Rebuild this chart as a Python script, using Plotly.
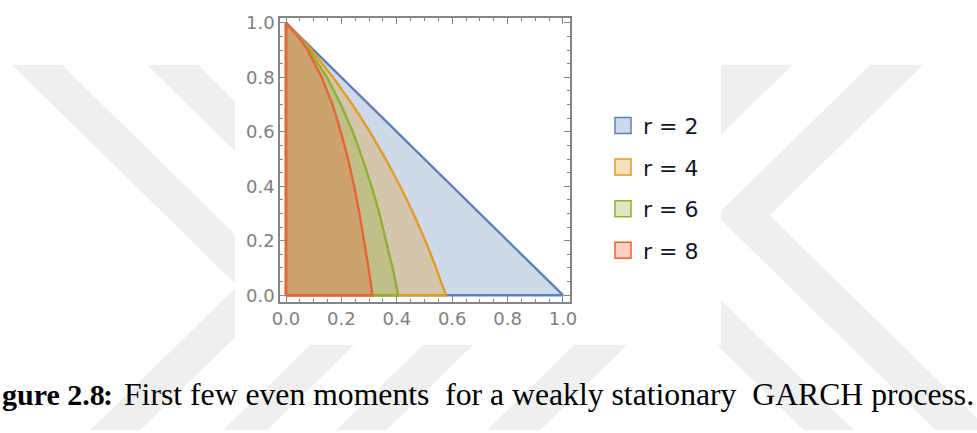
import plotly.graph_objects as go

# Stationarity regions of the even moments E[x^r] of a GARCH(1,1) process
# (alpha on the horizontal axis, beta on the vertical axis).
beta_levels = [0.0, 0.1, 0.2, 0.3, 0.4, 0.5, 0.6, 0.7, 0.8, 0.9, 0.95, 1.0]
alpha_r2 = [1.0, 0.9, 0.8, 0.7, 0.6, 0.5, 0.4, 0.3, 0.2, 0.1, 0.05, 0.0]
alpha_r4 = [0.577, 0.542, 0.503, 0.460, 0.412, 0.360, 0.303, 0.240, 0.170, 0.092, 0.048, 0.0]
alpha_r6 = [0.405, 0.385, 0.362, 0.337, 0.309, 0.277, 0.241, 0.198, 0.148, 0.084, 0.046, 0.0]
alpha_r8 = [0.312, 0.298, 0.282, 0.265, 0.246, 0.224, 0.198, 0.168, 0.129, 0.078, 0.044, 0.0]

series_names = ["r = 2", "r = 4", "r = 6", "r = 8"]
series_alpha = [alpha_r2, alpha_r4, alpha_r6, alpha_r8]
line_colors = ["#5E81B5", "#E19C24", "#8FB032", "#EB6235"]
fill_colors = ["rgba(94,129,181,0.3)", "rgba(225,156,36,0.3)",
               "rgba(143,176,50,0.3)", "rgba(235,98,53,0.3)"]

tick_values = [0.0, 0.2, 0.4, 0.6, 0.8, 1.0]
tick_labels = ["0.0", "0.2", "0.4", "0.6", "0.8", "1.0"]

caption_label = "gure 2.8"
caption_colon = ":"
caption_text = ("First few even moments\u00a0\u00a0for a weakly stationary"
                "\u00a0\u00a0GARCH process.")

W, H = 977, 433
ML, MR, MT, MB = 280, 407, 12, 131
PW, PH = W - ML - MR, H - MT - MB


def px(x):
    return (x - ML) / PW


def py(y):
    return (H - MB - y) / PH


fig = go.Figure()

# Filled regions with their boundaries, widest first
for name, alphas, lc, fc in zip(series_names, series_alpha, line_colors, fill_colors):
    xs = [0.0] + alphas + [0.0]
    ys = [0.0] + beta_levels + [0.0]
    fig.add_trace(go.Scatter(
        x=xs, y=ys, mode="lines", fill="toself", fillcolor=fc,
        line=dict(color=lc, width=2.4), showlegend=False, hoverinfo="skip",
    ))

# Legend swatches
for i, (name, lc, fc) in enumerate(zip(series_names, line_colors, fill_colors)):
    fig.add_trace(go.Scatter(
        x=[None], y=[None], mode="markers", name=name, legendgroup=f"g{i}",
        marker=dict(symbol="square", size=16, color=fc, line=dict(color=lc, width=1.5)),
    ))

# Background watermark bands (pixel outlines)
bands = [
    [(12, 60), (62, 60), (287.5, 285.5), (140, 433), (90, 433), (237.5, 285.5)],
    [(147, 60), (198, 60), (419, 281), (267, 433), (223, 433), (371.5, 284.5)],
    [(336, 433), (386, 433), (536, 283), (486, 283)],
    [(487, 433), (540, 433), (690, 283), (637, 283)],
    [(870, 60), (923, 60), (769.5, 213.5), (989, 433), (936, 433), (716.5, 213.5)],
    [(650, 60), (792, 60), (650, 202)],
    [(650, 279), (700, 279), (854, 433), (804, 433)],
]
shapes = []
for poly in bands:
    path = "M " + " L ".join(f"{px(a):.5f},{py(b):.5f}" for a, b in poly) + " Z"
    shapes.append(dict(type="path", path=path, xref="paper", yref="paper",
                       fillcolor="#efefef", line=dict(width=0), layer="below"))
shapes.append(dict(type="rect", xref="paper", yref="paper",
                   x0=px(235), x1=px(721), y0=py(346), y1=py(0),
                   fillcolor="white", line=dict(width=0), layer="below"))

axis_common = dict(
    tickvals=tick_values, ticktext=tick_labels,
    showline=True, linecolor="#858585", linewidth=1.5, mirror="allticks",
    ticks="inside", ticklen=6, tickwidth=1.2, tickcolor="#858585",
    minor=dict(dtick=0.05, ticks="inside", ticklen=3, tickwidth=1, tickcolor="#858585"),
    showgrid=False, zeroline=False, fixedrange=True,
    tickfont=dict(family="DejaVu Sans", size=18, color="#808080"),
)

serif = dict(family="Liberation Serif", color="black")

fig.update_layout(
    width=W, height=H,
    margin=dict(l=ML, r=MR, t=MT, b=MB, pad=0),
    paper_bgcolor="white", plot_bgcolor="rgba(0,0,0,0)",
    xaxis=dict(range=[-0.0217, 1.0253], **axis_common),
    yaxis=dict(range=[-0.025, 1.018], **axis_common),
    shapes=shapes,
    showlegend=True,
    legend=dict(
        x=px(603), y=py(185.8), xanchor="left", yanchor="middle",
        bgcolor="rgba(0,0,0,0)", borderwidth=0, tracegroupgap=10,
        font=dict(family="DejaVu Sans", size=22, color="#15152a"),
    ),
    annotations=[
        dict(text=f"<b>{caption_label}</b>", x=px(0), y=py(396), xref="paper", yref="paper",
             xanchor="left", yanchor="middle", showarrow=False,
             font=dict(size=30, **serif)),
        dict(text=f"<b>{caption_colon}</b>", x=px(101), y=py(396), xref="paper", yref="paper",
             xanchor="left", yanchor="middle", showarrow=False,
             font=dict(size=30, **serif)),
        dict(text=caption_text, x=px(122), y=py(396), xref="paper", yref="paper",
             xanchor="left", yanchor="middle", showarrow=False,
             font=dict(size=31.7, **serif)),
    ],
)

fig.write_html("out.html")
